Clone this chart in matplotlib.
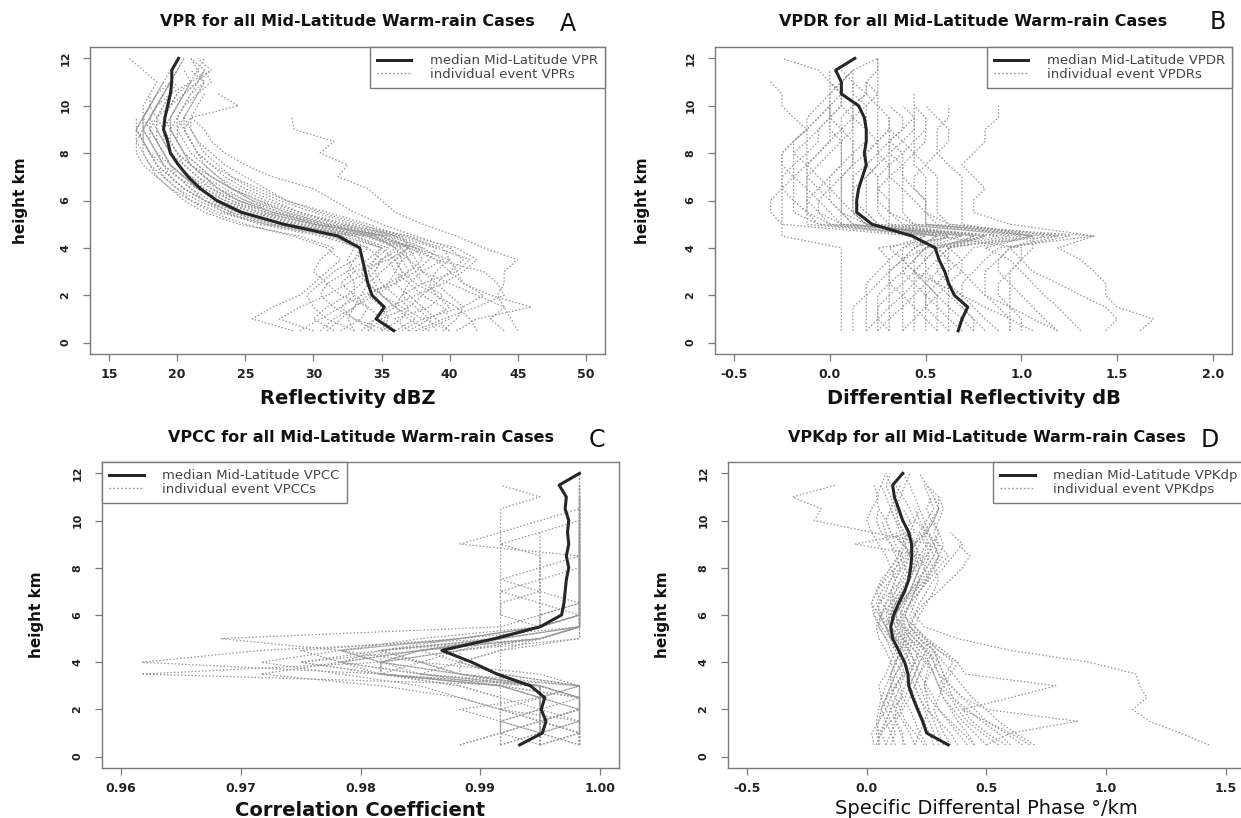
import matplotlib
matplotlib.use("Agg")
import matplotlib.pyplot as plt
from matplotlib.lines import Line2D

plt.rcParams['font.family'] = ['DejaVu Sans']
plt.rcParams['axes.unicode_minus'] = False

# height levels (km), profiles start at 0.5 km
HEIGHTS = [0.5, 1.0, 1.5, 2.0, 2.5, 3.0, 3.5, 4.0, 4.5, 5.0, 5.5, 6.0,
           6.5, 7.0, 7.5, 8.0, 8.5, 9.0, 9.5, 10.0, 10.5, 11.0, 11.5, 12.0]

# ---- panel A: reflectivity (dBZ)
vpr_median = [35.9, 34.6, 35.2, 34.3, 34.0, 33.8, 33.6, 33.4, 31.8, 27.8, 24.7, 22.9,
              21.7, 20.8, 20.1, 19.5, 19.3, 19.0, 19.1, 19.3, 19.5, 19.6, 19.6, 20.1]
vpr_events = [
    [45.0, 44.5, 44.0, 43.5, 44.0, 44.0, 45.0, 42.5, 40.5, 38.0, 36.0, 35.0, 34.0, 31.8, 32.5, 30.5, 31.5, 28.6, 28.4],
    [40.5, 42.0, 46.0, 43.0, 41.0, 40.0, 39.0, 37.5, 35.0, 30.5, 27.0, 24.5, 23.0, 22.0, 21.0, 20.5, 20.0, 19.5, 19.5, 20.0, 20.5, 21.0, 20.5],
    [28.5, 25.5, 27.0, 29.0, 30.0, 31.0, 32.0, 31.0, 28.5, 25.0, 22.5, 21.0, 20.0, 19.0, 18.5, 18.0, 17.5, 17.5, 18.0, 18.5, 19.0],
    [36.0, 37.5, 36.0, 35.0, 34.0, 33.5, 34.5, 35.5, 33.0, 28.0, 25.0, 23.0, 21.5, 20.5, 19.5, 19.0, 18.5, 18.0, 18.0, 18.5, 19.0, 19.5, 20.0, 20.5],
    [40.0, 39.0, 38.0, 37.0, 36.0, 37.0, 36.5, 36.0, 34.0, 29.0, 26.0, 24.0, 22.5, 21.5, 20.5, 19.5, 19.0, 18.5, 18.0, 18.5, 19.5, 21.0, 22.5],
    [33.0, 31.0, 30.0, 29.5, 30.5, 31.5, 33.0, 34.0, 32.0, 27.0, 24.0, 22.0, 20.5, 19.5, 18.5, 18.0, 17.5, 17.0, 17.0],
    [44.0, 43.0, 44.0, 42.0, 40.0, 38.0, 37.5, 37.0, 36.5, 34.0, 31.0, 28.0, 26.0, 24.0, 22.5, 21.5, 21.0, 20.5, 21.0, 24.5, 23.0],
    [31.0, 32.0, 33.0, 33.5, 34.0, 35.0, 36.0, 37.0, 33.5, 27.5, 24.5, 22.5, 21.0, 20.0, 19.5, 19.0, 18.5, 18.0],
    [38.0, 40.0, 39.5, 38.0, 37.0, 36.0, 35.5, 37.0, 35.0, 31.0, 28.0, 26.0, 24.0, 22.5, 21.0, 20.0, 19.5, 19.0, 18.5, 18.0, 18.5, 19.5, 20.0, 20.5],
    [29.0, 30.5, 32.0, 33.0, 33.0, 32.5, 33.0, 33.5, 30.5, 26.0, 23.5, 21.5, 20.0, 19.0, 18.0, 17.5, 17.0, 17.0, 17.5, 18.0],
    [35.0, 35.5, 35.0, 34.0, 35.5, 36.0, 36.5, 38.0, 36.0, 32.5, 29.0, 27.0, 25.0, 23.5, 22.5, 21.5, 21.0, 20.5, 20.5, 21.0, 21.5, 22.0, 21.5, 21.0],
    [37.0, 36.0, 38.5, 39.5, 38.0, 37.5, 38.5, 39.0, 37.0, 33.0, 30.0, 27.5, 25.5, 24.0, 23.0, 22.0, 21.5, 21.0, 20.5],
    [32.0, 33.5, 34.0, 32.0, 31.0, 30.0, 30.5, 31.5, 29.0, 24.5, 22.0, 20.5, 19.5, 18.5, 18.0, 17.5, 17.5, 17.0, 17.5, 18.0, 18.5, 19.0],
    [34.0, 35.0, 37.0, 38.0, 39.0, 40.0, 41.0, 40.0, 37.5, 35.0, 33.0, 31.5, 30.0, 27.0, 25.0, 23.5, 22.5, 22.0, 21.0],
    [36.5, 38.0, 41.0, 42.5, 41.0, 40.5, 40.0, 39.5, 36.5, 31.5, 28.0, 25.5, 24.0, 22.5, 21.5, 20.5, 20.0, 19.5, 19.0, 19.5, 20.0, 21.0, 21.5, 22.0],
    [40.0, 38.0, 36.5, 35.0, 34.0, 33.0, 32.5, 33.0, 31.5, 26.5, 23.5, 22.0, 20.5, 19.5, 19.0, 18.5, 18.0, 18.0, 18.5, 19.5, 20.5, 21.5, 22.5, 21.5],
    [30.0, 27.5, 29.0, 31.0, 32.5, 34.0, 34.5, 35.0, 32.0, 27.0, 24.0, 22.0, 21.0, 20.0, 19.0, 18.5, 18.0, 17.5, 17.5, 18.0, 18.0, 18.5, 17.5, 16.5],
    [39.0, 38.5, 37.5, 36.5, 37.0, 38.0, 39.5, 38.0, 35.5, 30.0, 26.5, 24.5, 23.0, 22.0, 21.0, 20.5, 20.0, 20.0, 20.5, 21.0, 21.5, 22.5, 22.0],
    [33.5, 34.5, 36.0, 35.0, 34.5, 34.0, 35.0, 36.5, 34.0, 29.5, 26.5, 24.0, 22.0, 20.5, 19.5, 19.0, 18.5, 18.5, 18.5, 19.0, 19.5, 20.0],
    [42.0, 41.5, 40.5, 39.0, 38.5, 39.0, 40.0, 37.5, 34.5, 30.0, 27.5, 25.5, 24.0, 23.0, 22.0, 21.5, 21.0, 20.5, 20.0, 20.5, 21.0, 21.5, 22.0, 21.0],
    [35.5, 33.0, 32.0, 33.5, 36.0, 37.5, 37.0, 36.0, 34.5, 29.0, 25.5, 23.0, 21.5, 20.5, 19.5, 19.0, 18.5, 18.0, 17.5, 17.5, 18.0],
    [37.5, 39.5, 42.0, 44.0, 43.5, 42.5, 39.0, 37.0, 35.0, 31.0, 27.5, 25.0, 23.5, 22.0, 21.0, 20.0, 19.5, 19.0, 19.0, 19.5, 20.0],
    [34.5, 33.0, 31.5, 30.5, 31.0, 32.5, 34.0, 35.0, 33.0, 28.5, 25.5, 23.5, 22.0, 21.0, 20.0, 19.5, 19.0, 18.5, 18.5, 19.0, 19.5],
    [36.0, 35.0, 34.0, 33.0, 32.0, 33.0, 35.5, 37.0, 35.5, 30.0, 26.0, 23.5, 21.5, 20.0, 19.0, 18.0, 17.5, 17.5, 18.0, 18.5, 19.0, 19.5, 20.0],
    [31.5, 30.0, 31.0, 32.5, 33.5, 34.5, 35.0, 34.0, 31.0, 26.5, 23.0, 21.0, 19.5, 18.5, 17.5, 17.0, 17.0, 17.5, 18.0, 18.5, 19.0, 19.5],
    [38.5, 37.0, 36.0, 36.5, 38.0, 40.5, 41.5, 39.0, 36.0, 31.0, 27.0, 24.5, 22.5, 21.0, 20.0, 19.5, 19.0, 19.0, 19.5, 20.0, 20.5, 21.5, 22.0],
    [35.0, 36.5, 37.0, 36.0, 35.0, 34.5, 35.0, 36.0, 34.5, 30.5, 27.0, 25.0, 23.0, 21.5, 20.5, 20.0, 19.5, 19.5, 20.0, 20.5, 21.0, 22.0, 21.0],
    [33.0, 32.5, 33.0, 34.0, 35.5, 37.0, 38.0, 37.5, 34.0, 28.0, 24.5, 22.0, 20.5, 19.5, 18.5, 18.0, 17.5, 17.0, 17.5, 18.0, 18.5],
    [39.5, 40.5, 41.0, 40.0, 39.0, 38.0, 37.0, 36.5, 35.0, 32.0, 29.0, 26.5, 24.5, 23.0, 22.0, 21.0, 20.5, 20.0, 20.0, 20.5, 21.5, 22.0],
    [30.5, 31.5, 33.0, 34.5, 36.0, 36.5, 36.0, 35.0, 32.5, 28.0, 25.0, 23.0, 21.5, 20.5, 19.5, 18.5, 18.0, 17.5, 17.5, 18.0, 18.5, 19.0, 19.5],
    [37.0, 38.5, 40.0, 39.0, 37.5, 36.5, 36.0, 37.5, 36.0, 33.5, 30.5, 28.0, 26.5, 25.0, 23.5, 22.5, 21.5, 21.0, 21.0, 21.5, 22.0],
    [34.0, 34.5, 35.5, 37.5, 39.5, 41.0, 42.0, 40.5, 37.0, 32.0, 28.5, 26.0, 24.0, 22.5, 21.5, 20.5, 20.0, 19.5, 19.5, 20.0, 20.5, 21.0],
]

# ---- panel B: differential reflectivity (dB)
vpdr_median = [0.67, 0.69, 0.72, 0.65, 0.62, 0.60, 0.57, 0.55, 0.43, 0.22, 0.14, 0.14,
               0.15, 0.17, 0.19, 0.18, 0.19, 0.19, 0.18, 0.15, 0.06, 0.06, 0.03, 0.13]
vpdr_events = [
    [1.62, 1.69, 1.5, 1.44, 1.44, 1.38, 1.31, 1.19, 1.38, 0.94, 0.75, 0.75, 0.81, 0.75, 0.69, 0.75, 0.81, 0.81, 0.88, 0.88],
    [1.19, 1.06, 0.94, 0.81, 0.75, 0.69, 0.62, 0.56, 1.19, 0.5, 0.5, 0.5, 0.44, 0.44, 0.5, 0.56, 0.62, 0.62, 0.56, 0.5],
    [0.06, 0.06, 0.06, 0.06, 0.06, 0.06, 0.06, 0.06, -0.25, -0.25, -0.25, -0.25, -0.25, -0.25, -0.25, -0.25, -0.19, -0.12, -0.19, -0.25, -0.25, -0.31],
    [0.19, 0.19, 0.19, 0.19, 0.19, 0.25, 0.31, 0.25, 0.69, 0.19, 0.12, 0.12, 0.12, 0.12, 0.12, 0.12, 0.12, 0.12, 0.12, 0.12, 0.12, 0.12],
    [0.94, 0.94, 0.94, 0.94, 0.94, 0.94, 1.0, 1.06, 1.06, 0.5, 0.5, 0.5, 0.44, 0.38, 0.38, 0.38, 0.31, 0.31, 0.31],
    [0.44, 0.44, 0.44, 0.44, 0.44, 0.44, 0.5, 0.56, 0.81, 0.31, 0.31, 0.31, 0.31, 0.31, 0.31, 0.25, 0.25, 0.25, 0.25, 0.25, 0.25, 0.25, 0.25, 0.25],
    [0.25, 0.31, 0.38, 0.44, 0.5, 0.56, 0.62, 0.56, 0.94, 0.0, -0.06, -0.06, 0.0, 0.06, 0.12, 0.19, 0.25, 0.31, 0.31, 0.25, 0.19, 0.12, 0.06],
    [1.06, 0.94, 0.81, 0.69, 0.56, 0.44, 0.38, 0.38, 0.62, 0.19, 0.06, 0.0, 0.0, -0.06, -0.12, -0.19, -0.12, -0.06, 0.0, 0.06, 0.06, 0.0],
    [0.69, 0.62, 0.56, 0.5, 0.44, 0.38, 0.44, 0.5, 0.62, 0.12, 0.06, 0.0, -0.06, -0.12, -0.12, -0.06, 0.0, 0.06, 0.12, 0.12, 0.19, 0.19, 0.25, 0.25],
    [0.62, 0.62, 0.62, 0.62, 0.62, 0.62, 0.62, 0.62, 1.06, 0.56, 0.5, 0.5, 0.5, 0.5, 0.44, 0.44, 0.44, 0.44, 0.44, 0.44, 0.44],
    [0.31, 0.31, 0.31, 0.31, 0.38, 0.44, 0.5, 0.44, 0.56, -0.06, -0.19, -0.19, -0.19, -0.19, -0.19, -0.19, -0.19, -0.12, -0.12, -0.06, 0.0, 0.0, 0.0],
    [0.81, 0.75, 0.69, 0.62, 0.56, 0.5, 0.5, 0.56, 0.75, 0.25, 0.19, 0.19, 0.19, 0.19, 0.25, 0.25, 0.25, 0.19, 0.19, 0.19, 0.12, 0.12, 0.12],
    [1.44, 1.5, 1.44, 1.31, 1.19, 1.06, 1.0, 0.94, 1.19, 0.62, 0.5, 0.44, 0.38, 0.38, 0.38, 0.31, 0.31, 0.38, 0.44],
    [0.56, 0.5, 0.44, 0.38, 0.31, 0.31, 0.38, 0.5, 0.44, -0.25, -0.31, -0.31, -0.25, -0.19, -0.12, -0.06, 0.0, 0.0, 0.0, 0.06, 0.06, 0.0, -0.06, -0.25],
    [0.94, 0.94, 0.88, 0.81, 0.81, 0.81, 0.88, 0.94, 1.25, 0.62, 0.56, 0.56, 0.56, 0.56, 0.5, 0.44, 0.38, 0.31, 0.31],
    [0.38, 0.38, 0.38, 0.38, 0.38, 0.38, 0.44, 0.5, 0.81, 0.06, 0.06, 0.06, 0.06, 0.06, 0.06, 0.06, 0.06, 0.0, 0.0, 0.0, 0.0, 0.06, 0.12],
    [0.75, 0.75, 0.69, 0.69, 0.69, 0.75, 0.81, 0.88, 1.38, 0.44, 0.38, 0.38, 0.38, 0.31, 0.31, 0.38, 0.44, 0.5, 0.5, 0.44],
    [0.31, 0.25, 0.25, 0.25, 0.31, 0.31, 0.31, 0.38, 0.5, -0.12, -0.12, -0.12, -0.12, -0.12, -0.12, -0.12, -0.12, -0.12, -0.06, 0.0, 0.0, 0.06, 0.12, 0.25],
    [1.19, 1.12, 1.06, 1.0, 0.94, 0.88, 0.88, 0.94, 1.12, 0.31, 0.25, 0.25, 0.25, 0.31, 0.38, 0.44, 0.5, 0.5],
    [0.62, 0.56, 0.5, 0.5, 0.56, 0.62, 0.69, 0.75, 1.06, 0.69, 0.69, 0.69, 0.69, 0.69, 0.62, 0.56, 0.56, 0.56, 0.62, 0.62],
    [0.12, 0.12, 0.12, 0.19, 0.25, 0.31, 0.38, 0.44, 0.62, -0.06, -0.12, -0.12, -0.06, 0.0, 0.06, 0.06, 0.06, 0.12, 0.12, 0.19, 0.25, 0.19],
    [0.5, 0.5, 0.5, 0.5, 0.5, 0.5, 0.5, 0.5, 0.88, 0.25, 0.19, 0.12, 0.12, 0.12, 0.19, 0.25, 0.31, 0.38, 0.38, 0.31],
    [0.88, 0.81, 0.75, 0.69, 0.62, 0.56, 0.56, 0.62, 1.0, 0.38, 0.31, 0.31, 0.25, 0.25, 0.19, 0.19, 0.25, 0.31],
    [0.19, 0.25, 0.31, 0.38, 0.44, 0.5, 0.56, 0.62, 0.75, 0.06, 0.0, -0.06, -0.12, -0.12, -0.06, 0.0, 0.06, 0.06, 0.0, 0.0, 0.06, 0.06, 0.12],
    [1.0, 1.0, 0.94, 0.88, 0.88, 0.94, 1.0, 1.0, 0.56, 0.19, 0.12, 0.12, 0.12, 0.19, 0.25, 0.31, 0.38, 0.44, 0.44, 0.38],
    [0.56, 0.56, 0.56, 0.56, 0.5, 0.44, 0.44, 0.5, 0.69, 0.12, 0.06, 0.06, 0.06, 0.06, 0.12, 0.12, 0.19, 0.19, 0.12, 0.06, 0.06, 0.0],
    [0.75, 0.69, 0.62, 0.56, 0.5, 0.44, 0.38, 0.31, 0.5, 0.0, -0.12, -0.19, -0.25, -0.25, -0.19, -0.12, -0.06, -0.06, 0.0, 0.0],
    [1.31, 1.25, 1.19, 1.12, 1.06, 1.0, 0.94, 0.81, 1.06, 0.44, 0.31, 0.25, 0.25, 0.25, 0.31, 0.31, 0.31],
    [0.38, 0.44, 0.5, 0.56, 0.62, 0.69, 0.69, 0.62, 0.81, 0.19, 0.12, 0.06, 0.0, 0.0, 0.06, 0.12, 0.12, 0.06, 0.06, 0.12, 0.19, 0.19],
    [0.25, 0.25, 0.25, 0.31, 0.31, 0.38, 0.38, 0.44, 0.56, 0.06, -0.06, -0.12, -0.12, -0.19, -0.25, -0.25, -0.19, -0.12, -0.06, 0.0],
]

# ---- panel C: correlation coefficient
vpcc_median = [0.9933, 0.9952, 0.9955, 0.9951, 0.9954, 0.9942, 0.9914, 0.9893, 0.9868, 0.9912, 0.9950, 0.9968,
               0.9970, 0.9971, 0.9972, 0.9974, 0.9972, 0.9974, 0.9973, 0.9974, 0.9971, 0.9972, 0.9966, 0.9983]
vpcc_events = [
    [0.9917, 0.9917, 0.9917, 0.9917, 0.9917, 0.9917, 0.9917, 0.9917, 0.9917, 0.9917, 0.9917, 0.9917, 0.9917, 0.9917, 0.9917, 0.9917, 0.9917, 0.9917, 0.9917, 0.9917, 0.9917, 0.9950, 0.9917],
    [0.9950, 0.9950, 0.9950, 0.9950, 0.9950, 0.9950, 0.9883, 0.9817, 0.9850, 0.9917, 0.9950, 0.9950, 0.9950, 0.9950, 0.9950, 0.9950, 0.9950, 0.9950, 0.9950],
    [0.9883, 0.9917, 0.9950, 0.9983, 0.9983, 0.9950, 0.9617, 0.9817, 0.9883, 0.9950, 0.9983, 0.9983, 0.9983, 0.9983, 0.9983, 0.9983, 0.9983, 0.9983, 0.9983, 0.9983, 0.9983, 0.9983, 0.9983],
    [0.9950, 0.9983, 0.9983, 0.9983, 0.9950, 0.9917, 0.9817, 0.9617, 0.9717, 0.9917, 0.9983, 0.9983, 0.9983, 0.9983, 0.9983, 0.9983, 0.9983, 0.9983, 0.9983, 0.9983, 0.9983, 0.9983],
    [0.9983, 0.9983, 0.9950, 0.9917, 0.9883, 0.9850, 0.9783, 0.9717, 0.9783, 0.9683, 0.9917, 0.9950, 0.9983, 0.9983, 0.9983, 0.9983, 0.9983, 0.9983, 0.9983, 0.9983, 0.9983],
    [0.9883, 0.9917, 0.9917, 0.9950, 0.9983, 0.9950, 0.9817, 0.9817, 0.9783, 0.9883, 0.9950, 0.9983, 0.9950, 0.9917, 0.9950, 0.9983, 0.9983, 0.9883, 0.9917, 0.9950, 0.9983, 0.9983, 0.9983],
    [0.9950, 0.9983, 0.9983, 0.9983, 0.9983, 0.9983, 0.9883, 0.9850, 0.9883, 0.9950, 0.9983, 0.9983, 0.9983, 0.9983, 0.9983, 0.9983, 0.9983, 0.9983, 0.9983, 0.9983, 0.9983, 0.9983, 0.9983],
    [0.9917, 0.9950, 0.9983, 0.9983, 0.9983, 0.9950, 0.9850, 0.9783, 0.9750, 0.9883, 0.9950, 0.9983, 0.9983, 0.9983, 0.9983, 0.9983, 0.9983, 0.9983, 0.9983, 0.9983],
    [0.9983, 0.9983, 0.9950, 0.9950, 0.9950, 0.9917, 0.9817, 0.9817, 0.9850, 0.9917, 0.9950, 0.9950, 0.9983, 0.9983, 0.9983, 0.9983, 0.9983, 0.9983],
    [0.9983, 0.9983, 0.9983, 0.9917, 0.9883, 0.9817, 0.9717, 0.9783, 0.9850, 0.9950, 0.9983, 0.9983, 0.9983, 0.9983, 0.9983, 0.9983, 0.9983, 0.9983, 0.9983, 0.9983, 0.9983, 0.9983],
    [0.9950, 0.9950, 0.9917, 0.9883, 0.9950, 0.9983, 0.9917, 0.9883, 0.9850, 0.9950, 0.9983, 0.9983, 0.9983, 0.9983, 0.9983, 0.9983, 0.9983, 0.9983, 0.9983],
    [0.9983, 0.9950, 0.9950, 0.9983, 0.9983, 0.9983, 0.9850, 0.9783, 0.9817, 0.9917, 0.9983, 0.9983, 0.9983, 0.9983, 0.9983, 0.9983, 0.9983, 0.9983, 0.9983, 0.9983, 0.9983, 0.9983, 0.9983],
    [0.9983, 0.9983, 0.9983, 0.9983, 0.9950, 0.9950, 0.9883, 0.9883, 0.9917, 0.9983, 0.9983, 0.9983, 0.9983, 0.9950, 0.9917, 0.9950, 0.9983, 0.9983, 0.9983, 0.9983],
    [0.9917, 0.9917, 0.9950, 0.9917, 0.9917, 0.9883, 0.9817, 0.9850, 0.9817, 0.9917, 0.9950, 0.9917, 0.9917, 0.9950, 0.9950, 0.9950, 0.9950, 0.9917, 0.9950, 0.9983, 0.9983],
    [0.9983, 0.9983, 0.9983, 0.9983, 0.9983, 0.9983, 0.9917, 0.9883, 0.9883, 0.9983, 0.9983, 0.9983, 0.9983, 0.9983, 0.9983, 0.9983, 0.9983, 0.9983, 0.9983, 0.9983, 0.9983, 0.9983, 0.9983, 0.9983],
    [0.9950, 0.9950, 0.9950, 0.9950, 0.9950, 0.9917, 0.9817, 0.9750, 0.9817, 0.9917, 0.9950, 0.9983, 0.9983, 0.9983, 0.9983, 0.9983],
    [0.9950, 0.9950, 0.9983, 0.9983, 0.9983, 0.9917, 0.9817, 0.9817, 0.9817, 0.9950, 0.9983, 0.9983, 0.9983, 0.9983, 0.9983, 0.9983, 0.9983, 0.9983, 0.9983, 0.9983, 0.9983, 0.9983],
    [0.9983, 0.9983, 0.9950, 0.9950, 0.9917, 0.9883, 0.9817, 0.9783, 0.9850, 0.9950, 0.9983, 0.9983, 0.9983, 0.9983, 0.9983, 0.9983, 0.9983, 0.9983, 0.9983],
    [0.9950, 0.9917, 0.9917, 0.9950, 0.9950, 0.9950, 0.9850, 0.9817, 0.9883, 0.9917, 0.9950, 0.9950, 0.9950, 0.9950, 0.9950, 0.9950, 0.9950],
    [0.9983, 0.9983, 0.9983, 0.9983, 0.9983, 0.9950, 0.9883, 0.9817, 0.9783, 0.9883, 0.9983, 0.9983, 0.9983, 0.9983, 0.9983, 0.9983, 0.9983, 0.9983, 0.9983, 0.9983, 0.9983, 0.9983, 0.9983, 0.9983],
    [0.9917, 0.9950, 0.9950, 0.9983, 0.9983, 0.9950, 0.9883, 0.9850, 0.9817, 0.9883, 0.9950, 0.9983, 0.9983, 0.9983, 0.9983, 0.9983, 0.9983],
    [0.9983, 0.9983, 0.9983, 0.9950, 0.9950, 0.9983, 0.9950, 0.9850, 0.9783, 0.9850, 0.9950, 0.9983, 0.9983, 0.9983, 0.9983, 0.9983, 0.9983, 0.9983, 0.9983, 0.9983, 0.9983],
    [0.9950, 0.9983, 0.9983, 0.9983, 0.9983, 0.9917, 0.9850, 0.9883, 0.9917, 0.9950, 0.9983, 0.9983, 0.9983, 0.9983, 0.9983, 0.9983, 0.9983, 0.9983, 0.9983, 0.9983, 0.9983, 0.9983],
    [0.9983, 0.9950, 0.9917, 0.9917, 0.9950, 0.9950, 0.9817, 0.9750, 0.9850, 0.9917, 0.9983, 0.9983, 0.9983, 0.9983, 0.9983, 0.9983, 0.9983, 0.9983, 0.9983, 0.9983],
]

# ---- panel D: specific differential phase (deg/km)
vpkdp_median = [0.34, 0.25, 0.233, 0.212, 0.192, 0.175, 0.172, 0.158, 0.133, 0.108, 0.10, 0.112,
                0.133, 0.158, 0.175, 0.183, 0.188, 0.187, 0.175, 0.15, 0.133, 0.115, 0.108, 0.15]
vpkdp_events = [
    [1.43, 1.31, 1.18, 1.11, 1.17, 1.14, 1.125, 0.93, 0.6, 0.38, 0.24, 0.2, 0.18, 0.2, 0.22, 0.2, 0.18, 0.15, 0.12],
    [0.05, 0.05, 0.08, 0.1, 0.15, 0.12, 0.1, 0.12, 0.15, 0.12, 0.1, 0.12, 0.15, 0.18, 0.2, 0.22, 0.25, 0.27, 0.02, -0.22, -0.19, -0.31, -0.13],
    [0.68, 0.6, 0.5, 0.4, 0.6, 0.79, 0.41, 0.38, 0.3, 0.25, 0.2, 0.15, 0.12, 0.1, 0.12, 0.15, 0.18, 0.2],
    [0.5, 0.6, 0.88, 0.5, 0.4, 0.35, 0.3, 0.28, 0.25, 0.2, 0.15, 0.12, 0.14, 0.18, 0.2, 0.22, 0.24, 0.25],
    [0.05, 0.04, 0.05, 0.06, 0.08, 0.1, 0.12, 0.1, 0.08, 0.05, 0.04, 0.06, 0.08, 0.1, 0.12, 0.1, 0.08, 0.05, 0.02, 0.0, 0.02, 0.05, 0.03],
    [0.25, 0.22, 0.2, 0.18, 0.15, 0.14, 0.12, 0.15, 0.12, 0.1, 0.08, 0.1, 0.12, 0.15, 0.18, 0.2, 0.22, 0.2, 0.18, 0.2, 0.22, 0.2, 0.18, 0.15],
    [0.45, 0.4, 0.35, 0.3, 0.28, 0.25, 0.22, 0.2, 0.18, 0.15, 0.12, 0.15, 0.18, 0.2, 0.25, 0.28, 0.3, 0.28, 0.25, 0.22, 0.2],
    [0.03, 0.02, 0.05, 0.08, 0.1, 0.12, 0.15, 0.18, 0.15, 0.1, 0.08, 0.05, 0.05, 0.08, 0.1, 0.12, 0.15, 0.12, 0.1, 0.08, 0.05, 0.04, 0.06],
    [0.35, 0.32, 0.3, 0.28, 0.3, 0.32, 0.35, 0.38, 0.32, 0.25, 0.2, 0.22, 0.25, 0.28, 0.3, 0.28, 0.25, 0.28, 0.3, 0.27, 0.25, 0.27],
    [0.2, 0.18, 0.15, 0.12, 0.1, 0.12, 0.15, 0.12, 0.1, 0.08, 0.05, 0.03, 0.05, 0.1, 0.15, 0.18, 0.2, 0.15, 0.1, 0.08, 0.1, 0.12, 0.1, 0.08],
    [0.6, 0.55, 0.48, 0.42, 0.36, 0.32, 0.3, 0.28, 0.26, 0.22, 0.18, 0.2, 0.22, 0.25, 0.28, 0.32, 0.36, 0.4, 0.35],
    [0.1, 0.12, 0.1, 0.08, 0.06, 0.05, 0.08, 0.1, 0.12, 0.08, 0.05, 0.06, 0.1, 0.14, 0.18, 0.16, 0.14, 0.1, 0.06, 0.04, 0.05],
    [0.3, 0.28, 0.26, 0.24, 0.22, 0.2, 0.18, 0.2, 0.22, 0.18, 0.15, 0.14, 0.16, 0.18, 0.2, 0.22, 0.2, 0.22, 0.25, 0.28, 0.3, 0.28, 0.25],
    [0.55, 0.48, 0.42, 0.38, 0.35, 0.3, 0.28, 0.25, 0.2, 0.15, 0.12, 0.1, 0.12, 0.15, 0.18, 0.2, 0.22, 0.25, 0.22],
    [0.08, 0.06, 0.08, 0.1, 0.12, 0.14, 0.16, 0.14, 0.12, 0.1, 0.08, 0.1, 0.14, 0.18, 0.22, 0.25, 0.28, 0.3, 0.25, 0.2, 0.18, 0.15, 0.12],
    [0.38, 0.35, 0.3, 0.25, 0.22, 0.2, 0.22, 0.25, 0.28, 0.22, 0.18, 0.2, 0.24, 0.3, 0.35, 0.4, 0.43, 0.38],
    [0.15, 0.15, 0.12, 0.1, 0.08, 0.1, 0.12, 0.15, 0.18, 0.12, 0.08, 0.05, 0.02, 0.04, 0.08, 0.12, 0.16, 0.2, 0.25, 0.28, 0.3, 0.3, 0.25, 0.22],
    [0.65, 0.58, 0.5, 0.45, 0.4, 0.35, 0.32, 0.3, 0.28, 0.24, 0.2, 0.18, 0.2, 0.22, 0.25, 0.28, 0.32],
    [0.05, 0.05, 0.04, 0.05, 0.06, 0.08, 0.1, 0.12, 0.14, 0.16, 0.14, 0.1, 0.06, 0.04, 0.06, 0.1, 0.14, 0.16, 0.18, 0.15, 0.12, 0.1, 0.08, 0.1],
    [0.28, 0.26, 0.24, 0.22, 0.2, 0.18, 0.2, 0.22, 0.25, 0.2, 0.16, 0.15, 0.18, 0.22, 0.26, 0.24, 0.22, 0.2, 0.22, 0.25, 0.28, 0.26, 0.24],
    [0.12, 0.1, 0.08, 0.06, 0.08, 0.12, 0.16, 0.2, 0.18, 0.14, 0.1, 0.08, 0.1, 0.12, 0.16, 0.2, 0.24, -0.05, 0.2, 0.18, 0.15],
    [0.42, 0.38, 0.34, 0.3, 0.26, 0.24, 0.26, 0.3, 0.28, 0.22, 0.16, 0.14, 0.16, 0.2, 0.24, 0.28, 0.3, 0.32, 0.3, 0.28],
    [0.04, 0.06, 0.1, 0.14, 0.16, 0.18, 0.2, 0.22, 0.2, 0.15, 0.1, 0.06, 0.04, 0.06, 0.1, 0.14, 0.12, 0.1, 0.08, 0.06],
    [0.5, 0.45, 0.4, 0.36, 0.32, 0.3, 0.33, 0.36, 0.3, 0.24, 0.18, 0.16, 0.18, 0.22, 0.26, 0.3, 0.34, 0.3, 0.28, 0.3, 0.32, 0.3],
    [0.2, 0.22, 0.24, 0.26, 0.24, 0.22, 0.2, 0.18, 0.16, 0.12, 0.08, 0.06, 0.08, 0.12, 0.14, 0.16, 0.18, 0.2, 0.16, 0.12, 0.1, 0.12, 0.14],
    [0.58, 0.5, 0.44, 0.4, 0.36, 0.34, 0.32, 0.3, 0.24, 0.18, 0.14, 0.12, 0.14, 0.18, 0.22, 0.25, 0.28, 0.26, 0.24],
    [0.08, 0.1, 0.12, 0.15, 0.18, 0.2, 0.22, 0.24, 0.2, 0.16, 0.12, 0.1, 0.12, 0.15, 0.18, 0.2, 0.18, 0.16, 0.14, 0.12, 0.1, 0.08, 0.06, 0.08],
    [0.32, 0.3, 0.28, 0.26, 0.25, 0.24, 0.25, 0.26, 0.22, 0.17, 0.13, 0.12, 0.15, 0.19, 0.23, 0.27, 0.3, 0.28, 0.26, 0.24, 0.22],
    [0.7, 0.62, 0.55, 0.5, 0.44, 0.4, 0.36, 0.32, 0.28, 0.22, 0.18, 0.16, 0.18, 0.2, 0.22, 0.24, 0.26, 0.25],
    [0.16, 0.14, 0.12, 0.12, 0.14, 0.16, 0.18, 0.2, 0.17, 0.13, 0.1, 0.09, 0.11, 0.14, 0.17, 0.19, 0.21, 0.18, 0.15, 0.13, 0.12, 0.14, 0.16, 0.18],
    [0.24, 0.2, 0.16, 0.14, 0.12, 0.1, 0.1, 0.12, 0.14, 0.1, 0.06, 0.03, 0.02, 0.04, 0.07, 0.1, 0.13, 0.15, 0.17, 0.18],
    [0.45, 0.42, 0.38, 0.35, 0.32, 0.3, 0.28, 0.26, 0.24, 0.2, 0.15, 0.12, 0.1, 0.1, 0.12, 0.14, 0.17, 0.2, 0.24, 0.27, 0.3, 0.28],
]

W, H = 1241, 818
EVENT_COLOR = '#959595'
MEDIAN_COLOR = '#262626'
FRAME_COLOR = '#7a7a7a'


def px_axes(fig, left, top, right, bottom):
    """Add axes from pixel box (top-left origin)"""
    return fig.add_axes([left / W, 1 - bottom / H, (right - left) / W, (bottom - top) / H])


def draw_panel(ax, median, events, xlim, xticks, xticklabels, leg_loc, leg_labels):
    # individual events (dotted grey) then the median on top
    for ev in events:
        ax.plot(ev, HEIGHTS[:len(ev)], color=EVENT_COLOR, lw=0.9, dashes=(1.2, 1.6))
    ax.plot(median, HEIGHTS[:len(median)], color=MEDIAN_COLOR, lw=2.2, solid_joinstyle='round')

    ax.set_xlim(*xlim)
    ax.set_ylim(-0.48, 12.48)
    ax.set_xticks(xticks)
    ax.set_xticklabels(xticklabels, fontsize=9, fontweight='bold', color='#222222')
    ax.set_yticks([0, 2, 4, 6, 8, 10, 12])
    ax.set_yticklabels(['0', '2', '4', '6', '8', '10', '12'], fontsize=8, fontweight='bold',
                       rotation=90, va='center', color='#222222')
    ax.tick_params(axis='both', direction='out', length=5, width=0.9, color=FRAME_COLOR)
    ax.tick_params(axis='x', pad=5)
    ax.tick_params(axis='y', pad=9)
    for sp in ax.spines.values():
        sp.set_color(FRAME_COLOR)
        sp.set_linewidth(1.0)

    handles = [Line2D([], [], color=MEDIAN_COLOR, lw=2.2),
               Line2D([], [], color=EVENT_COLOR, lw=1.0, dashes=(1.2, 1.6))]
    leg = ax.legend(handles, leg_labels, loc=leg_loc, borderaxespad=0, fancybox=False,
                    fontsize=9.5, labelspacing=0.05, handlelength=2.6, handletextpad=1.4,
                    borderpad=0.55, framealpha=1)
    leg.get_frame().set_edgecolor(FRAME_COLOR)
    leg.get_frame().set_linewidth(1.0)
    for t in leg.get_texts():
        t.set_color('#444444')


fig = plt.figure(figsize=(W / 100, H / 100), dpi=100)

# pixel boxes of the four plot regions
boxes = {
    'A': (90, 47, 605, 354),
    'B': (715, 47, 1232, 354),
    'C': (102, 462, 619, 768),
    'D': (728, 462, 1245, 768),
}

axA = px_axes(fig, *boxes['A'])
draw_panel(axA, vpr_median, vpr_events, (13.6, 51.4), [15, 20, 25, 30, 35, 40, 45, 50],
           ['15', '20', '25', '30', '35', '40', '45', '50'], 'upper right',
           ['median Mid-Latitude VPR', 'individual event VPRs'])

axB = px_axes(fig, *boxes['B'])
draw_panel(axB, vpdr_median, vpdr_events, (-0.6, 2.1), [-0.5, 0.0, 0.5, 1.0, 1.5, 2.0],
           ['-0.5', '0.0', '0.5', '1.0', '1.5', '2.0'], 'upper right',
           ['median Mid-Latitude VPDR', 'individual event VPDRs'])

axC = px_axes(fig, *boxes['C'])
draw_panel(axC, vpcc_median, vpcc_events, (0.9584, 1.0016), [0.96, 0.97, 0.98, 0.99, 1.00],
           ['0.96', '0.97', '0.98', '0.99', '1.00'], 'upper left',
           ['median Mid-Latitude VPCC', 'individual event VPCCs'])

axD = px_axes(fig, *boxes['D'])
draw_panel(axD, vpkdp_median, vpkdp_events, (-0.58, 1.58), [-0.5, 0.0, 0.5, 1.0, 1.5],
           ['-0.5', '0.0', '0.5', '1.0', '1.5'], 'upper right',
           ['median Mid-Latitude VPKdp', 'individual event VPKdps'])

# titles, panel letters, axis labels
titles = {
    'A': ('VPR for all Mid-Latitude Warm-rain Cases', 22, (568, 24)),
    'B': ('VPDR for all Mid-Latitude Warm-rain Cases', 22, (1218, 22)),
    'C': ('VPCC for all Mid-Latitude Warm-rain Cases', 437, (597, 440)),
    'D': ('VPKdp for all Mid-Latitude Warm-rain Cases', 437, (1210, 440)),
}
xlabels = {
    'A': ('Reflectivity dBZ', 398, 'bold'),
    'B': ('Differential Reflectivity dB', 398, 'bold'),
    'C': ('Correlation Coefficient', 810, 'bold'),
    'D': ('Specific Differental Phase \u00b0/km', 808, 'normal'),
}
ylabel_x = {'A': 21, 'B': 643, 'C': 36, 'D': 662}

for key, (l, t, r, b) in boxes.items():
    cx = (l + r) / 2
    title, ty, (lx, ly) = titles[key]
    fig.text(cx / W, 1 - ty / H, title, ha='center', va='center', fontsize=11.5,
             fontweight='bold', color='#111111')
    fig.text(lx / W, 1 - ly / H, key, ha='center', va='center', fontsize=17, color='#111111')
    xl, xy, fw = xlabels[key]
    fig.text(cx / W, 1 - xy / H, xl, ha='center', va='center', fontsize=14,
             fontweight=fw, color='#111111')
    fig.text(ylabel_x[key] / W, 1 - ((t + b) / 2) / H, 'height km', ha='center', va='center',
             rotation=90, fontsize=11, fontweight='bold', color='#111111')

fig.savefig('out.png', dpi=100)
